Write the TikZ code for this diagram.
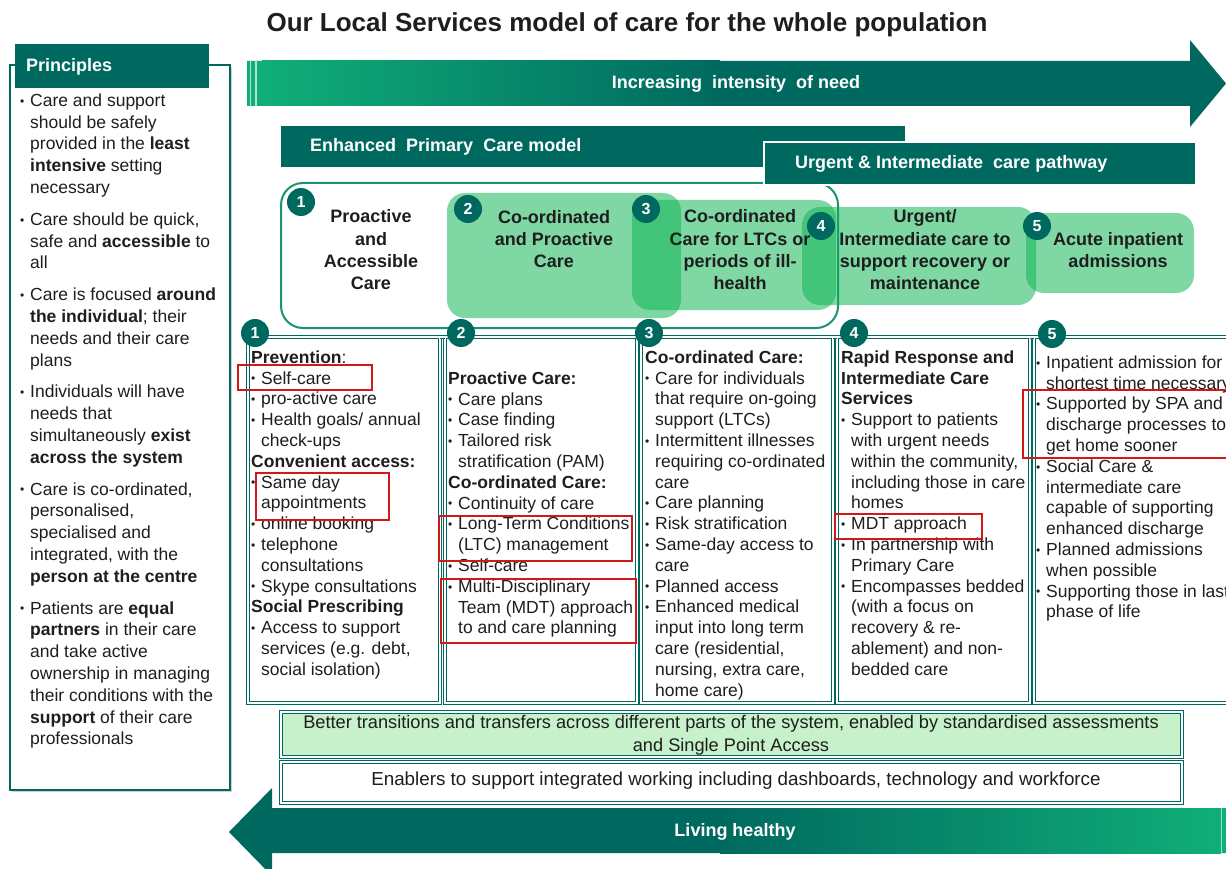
\documentclass[tikz,border=0pt]{standalone}
\usepackage{fontspec}
\setmainfont{Liberation Sans}
\usetikzlibrary{shadows}
\definecolor{teal0}{HTML}{00695F}
\definecolor{grn0}{HTML}{10AE78}
\definecolor{boxg}{RGB}{11,180,82}
\definecolor{outg}{HTML}{1A9470}
\definecolor{redb}{HTML}{D01A1A}
\definecolor{lgrn}{HTML}{C6F1CA}
\definecolor{txt}{HTML}{1E1E1E}
\newcommand{\bu}{\makebox[10pt][l]{\raisebox{1.2pt}{\fontsize{12}{12}\selectfont\textbullet}}}
\newcommand{\ti}{\hspace*{10pt}}
\newcommand{\fst}{\rule{0pt}{14pt}}
\tikzset{
  colt/.style={anchor=north west, inner sep=0pt, align=left, font=\fontsize{17.5}{20.8}\selectfont, text=txt},
  prt/.style={anchor=north west, inner sep=0pt, align=left, font=\fontsize{17.5}{21.8}\selectfont, text=txt},
  toptxt/.style={align=center, inner sep=0pt, font=\bfseries\fontsize{18}{22.3}\selectfont, text=txt},
  numc/.style={circle, fill=teal0, minimum size=28pt, inner sep=0pt, text=white, font=\bfseries\fontsize{16}{16}\selectfont},
  whtxt/.style={text=white, inner sep=0pt, font=\bfseries\fontsize{18}{20}\selectfont},
  gbox/.style={fill=boxg, fill opacity=0.52, rounded corners=18pt, draw=none},
  colbox/.style={draw=teal0, line width=0.9pt, double=white, double distance=1.3pt},
  redbox/.style={draw=redb, line width=2.2pt},
}
\begin{document}
\begin{tikzpicture}[x=1pt,y=-1pt]
\useasboundingbox (0,0) rectangle (1226,869);
\fill[white] (0,0) rectangle (1226,869);

% title
\node[inner sep=0pt, font=\bfseries\fontsize{26}{30}\selectfont, text=txt] (title) at (627,25) {Our Local Services model of care for the whole population};

% Principles
\draw[draw=teal0, line width=2pt, fill=white, drop shadow={opacity=0.35, shadow xshift=2pt, shadow yshift=-2pt}] (10,65) rectangle (230,790);
\fill[teal0] (15,44) rectangle (209,88);
\node[whtxt, anchor=west] (princ) at (26,67) {Principles};
\node[prt] (plist) at (20,92) {\fst\bu Care and support\\
\ti should be safely\\
\ti provided in the \textbf{least}\\
\ti \textbf{intensive} setting\\
\ti necessary\\[10pt]
\bu Care should be quick,\\
\ti safe and \textbf{accessible} to\\
\ti all\\[10pt]
\bu Care is focused \textbf{around}\\
\ti \textbf{the individual}; their\\
\ti needs and their care\\
\ti plans\\[10pt]
\bu Individuals will have\\
\ti needs that\\
\ti simultaneously \textbf{exist}\\
\ti \textbf{across the system}\\[10pt]
\bu Care is co-ordinated,\\
\ti personalised,\\
\ti specialised and\\
\ti integrated, with the\\
\ti \textbf{person at the centre}\\[10pt]
\bu Patients are \textbf{equal}\\
\ti \textbf{partners} in their care\\
\ti and take active\\
\ti ownership in managing\\
\ti their conditions with the\\
\ti \textbf{support} of their care\\
\ti professionals};

% top arrow
\fill[teal0] (247,61) -- (1190,61) -- (1190,40) -- (1226,83.5) -- (1190,127) -- (1190,106) -- (247,106) -- cycle;
\shade[left color=grn0, right color=teal0] (262,61) rectangle (720,106);
\fill[grn0] (247,61) rectangle (262,106);
\draw[white!65!grn0, line width=1.2pt] (250.5,61) -- (250.5,106) (256,61) -- (256,106);
\node[whtxt] (incr) at (736,84) {Increasing\ \ intensity\ \ of need};

% Enhanced primary care bar
\fill[teal0] (281,126) rectangle (905,167);
\node[whtxt, anchor=west] (epc) at (310,147) {Enhanced\ \ Primary\ \ Care model};

% rounded outline
\draw[outg, line width=2pt, rounded corners=22pt] (281,183) rectangle (838,328);

% urgent bar
\draw[fill=teal0, draw=white, line width=2pt] (764,142) rectangle (1196,185);
\node[whtxt, anchor=west] (uicp) at (795,164) {Urgent \& Intermediate\ \ care pathway};

% green boxes
\fill[gbox] (447,193) rectangle (681,318);
\fill[gbox] (632,200) rectangle (836,310);
\fill[gbox] (802,207) rectangle (1036,305);
\fill[gbox] (1026,213) rectangle (1194,293);

% top texts
\node[toptxt] (t1) at (371,250) {Proactive\\and\\Accessible\\Care};
\node[toptxt] (t2) at (554,239) {Co-ordinated\\and Proactive\\Care};
\node[toptxt] (t3) at (740,250) {Co-ordinated\\Care for LTCs or\\periods of ill-\\health};
\node[toptxt] (t4) at (925,250) {Urgent/\\Intermediate care to\\support recovery or\\maintenance};
\node[toptxt] (t5) at (1118,250) {Acute inpatient\\admissions};

% top circles
\node[numc] (c1) at (301,202) {1};
\node[numc] (c2) at (468,209) {2};
\node[numc] (c3) at (646,209) {3};
\node[numc] (c4) at (821,226) {4};
\node[numc] (c5) at (1037,226) {5};

% column boxes
\draw[colbox] (248,337) rectangle (440,703);
\draw[colbox] (445,337) rectangle (637,703);
\draw[colbox] (641,337) rectangle (833,703);
\draw[colbox] (837,337) rectangle (1030,703);
\draw[colbox] (1034,337) rectangle (1240,703);
\draw[colbox] (440,337) -- (445,337) (637,337) -- (641,337) (833,337) -- (837,337) (1030,337) -- (1034,337);

% column texts
\node[colt] (col1) at (251,349) {\fst\textbf{Prevention}:\\
\bu Self-care\\
\bu pro-active care\\
\bu Health goals/ annual\\
\ti check-ups\\
\textbf{Convenient access:}\\
\bu Same day\\
\ti appointments\\
\bu online booking\\
\bu telephone\\
\ti consultations\\
\bu Skype consultations\\
\textbf{Social Prescribing}\\
\bu Access to support\\
\ti services (e.g. debt,\\
\ti social isolation)};

\node[colt] (col2) at (448,370) {\fst\textbf{Proactive Care:}\\
\bu Care plans\\
\bu Case finding\\
\bu Tailored risk\\
\ti stratification (PAM)\\
\textbf{Co-ordinated Care:}\\
\bu Continuity of care\\
\bu Long-Term Conditions\\
\ti (LTC) management\\
\bu Self-care\\
\bu Multi-Disciplinary\\
\ti Team (MDT) approach\\
\ti to and care planning};

\node[colt] (col3) at (645,349) {\fst\textbf{Co-ordinated Care:}\\
\bu Care for individuals\\
\ti that require on-going\\
\ti support (LTCs)\\
\bu Intermittent illnesses\\
\ti requiring co-ordinated\\
\ti care\\
\bu Care planning\\
\bu Risk stratification\\
\bu Same-day access to\\
\ti care\\
\bu Planned access\\
\bu Enhanced medical\\
\ti input into long term\\
\ti care (residential,\\
\ti nursing, extra care,\\
\ti home care)};

\node[colt] (col4) at (841,349) {\fst\textbf{Rapid Response and}\\
\textbf{Intermediate Care}\\
\textbf{Services}\\
\bu Support to patients\\
\ti with urgent needs\\
\ti within the community,\\
\ti including those in care\\
\ti homes\\
\bu MDT approach\\
\bu In partnership with\\
\ti Primary Care\\
\bu Encompasses bedded\\
\ti (with a focus on\\
\ti recovery \& re-\\
\ti ablement) and non-\\
\ti bedded care};

\node[colt] (col5) at (1036,354) {\fst\bu Inpatient admission for\\
\ti shortest time necessary\\
\bu Supported by SPA and\\
\ti discharge processes to\\
\ti get home sooner\\
\bu Social Care \&\\
\ti intermediate care\\
\ti capable of supporting\\
\ti enhanced discharge\\
\bu Planned admissions\\
\ti when possible\\
\bu Supporting those in last\\
\ti phase of life};

% bottom circles
\node[numc] (d1) at (255,333) {1};
\node[numc] (d2) at (461,333) {2};
\node[numc] (d3) at (649,333) {3};
\node[numc] (d4) at (854,333) {4};
\node[numc] (d5) at (1052,334) {5};

% red highlight boxes
\draw[redbox] (238,365) rectangle (372,390);
\draw[redbox] (256,473) rectangle (389,520);
\draw[redbox] (439,516) rectangle (632,561);
\draw[redbox] (441,579) rectangle (636,643);
\draw[redbox] (835,514) rectangle (982,539);
\draw[redbox] (1023,390) rectangle (1240,458);

% bottom boxes
\draw[colbox, fill=lgrn] (281,712) rectangle (1182,757);
\node[inner sep=0pt, align=center, font=\fontsize{18.2}{23}\selectfont, text=txt] (better) at (731,735) {Better transitions and transfers across different parts of the system, enabled by standardised assessments\\and Single Point Access};
\draw[colbox, fill=white] (281,762) rectangle (1182,803);
\node[inner sep=0pt, font=\fontsize{18.8}{20}\selectfont, text=txt] (enab) at (736,781) {Enablers to support integrated working including dashboards, technology and workforce};

% bottom arrow
\fill[teal0] (1226,808) -- (272,808) -- (272,788) -- (229,832) -- (272,876) -- (272,853) -- (1226,853) -- cycle;
\shade[left color=teal0, right color=grn0] (720,808) rectangle (1221,853);
\fill[grn0] (1221,808) rectangle (1226,853);
\draw[white!60!grn0, line width=1pt] (1221.5,808) -- (1221.5,853);
\node[whtxt] (live) at (735,832) {Living healthy};
\end{tikzpicture}
\end{document}
